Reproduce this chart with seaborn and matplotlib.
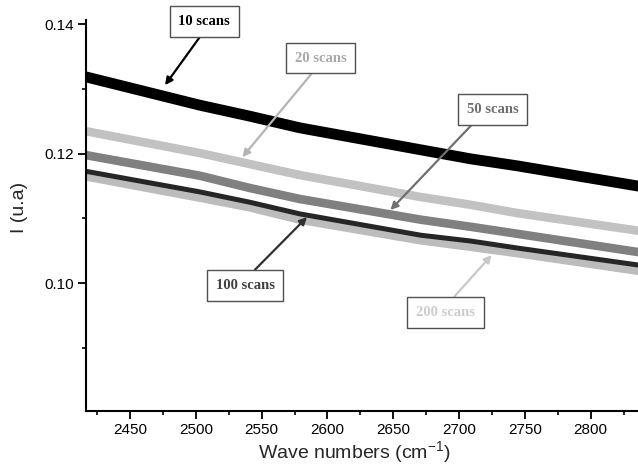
import numpy as np
import pandas as pd
import matplotlib
matplotlib.use("Agg")
import matplotlib.pyplot as plt
import seaborn as sns

# values (band centres)
wavenumber = [2416, 2503, 2541, 2579, 2671, 2709, 2745, 2836]
scans_10 = [0.1319, 0.1275, 0.1258, 0.1240, 0.1206, 0.1192, 0.1181, 0.1150]
scans_20 = [0.1235, 0.1201, 0.1184, 0.1167, 0.1133, 0.1121, 0.1108, 0.1081]
scans_50 = [0.1198, 0.1166, 0.1147, 0.1130, 0.1098, 0.1087, 0.1076, 0.1048]
scans_100 = [0.1173, 0.1141, 0.1125, 0.1107, 0.1074, 0.1065, 0.1054, 0.1028]
scans_200 = [0.1166, 0.1133, 0.1118, 0.1099, 0.1067, 0.1057, 0.1047, 0.1020]

series_names = ["10 scans", "20 scans", "50 scans", "200 scans", "100 scans"]
series_values = [scans_10, scans_20, scans_50, scans_200, scans_100]

sns.set_theme(style="ticks")
plt.rcParams["font.family"] = ["Liberation Sans", "DejaVu Sans"]
plt.rcParams["mathtext.default"] = "regular"

df = pd.concat(
    [pd.DataFrame({"wn": wavenumber, "I": v, "series": n})
     for n, v in zip(series_names, series_values)],
    ignore_index=True,
)

palette = {
    "10 scans": "#000000",
    "20 scans": "#c2c2c2",
    "50 scans": "#808080",
    "100 scans": "#262626",
    "200 scans": "#bcbcbc",
}
widths = {"10 scans": 7.8, "20 scans": 6.2, "50 scans": 6.2,
          "100 scans": 3.6, "200 scans": 7.0}

fig = plt.figure(figsize=(6.38, 4.66), dpi=100)
ax = fig.add_axes([0.1343, 0.118, 0.8657, 0.839])

for name in series_names:
    sns.lineplot(data=df[df["series"] == name], x="wn", y="I",
                 color=palette[name], linewidth=widths[name], ax=ax,
                 legend=False, zorder=2)

ax.set_xlim(2416.3, 2836)
ax.set_ylim(0.08023, 0.14066)
ax.set_xticks(np.arange(2450, 2801, 50))
ax.set_xticks(np.arange(2425, 2836, 50), minor=True)
ax.set_yticks([0.10, 0.12, 0.14])
ax.set_yticklabels(["0.10", "0.12", "0.14"])
ax.set_yticks([0.09, 0.11, 0.13], minor=True)

sns.despine(ax=ax)
for s in ["left", "bottom"]:
    ax.spines[s].set_linewidth(1.5)
    ax.spines[s].set_color("black")
ax.tick_params(which="major", direction="out", length=5.5, width=1.3,
               labelsize=11, pad=3, colors="black")
ax.tick_params(which="minor", direction="out", length=3.2, width=1.2,
               colors="black")

ax.set_xlabel("Wave numbers (cm$^{-1}$)", fontsize=14)
ax.set_ylabel("I (u.a)", fontsize=14)
ax.xaxis.set_label_coords(0.486, -0.072)
ax.yaxis.set_label_coords(-0.104, 0.52)

# labelled boxes with arrows
labels = [
    # text, text pos, arrow head, text colour, arrow colour, relpos
    ("10 scans", (2506.4, 0.14043), (2476.6, 0.1306), "#000000", "#000000", (0.54, 0.0)),
    ("20 scans", (2594.9, 0.13479), (2535.4, 0.11947), "#a8a8a8", "#b4b4b4", (0.47, 0.0)),
    ("50 scans", (2725.5, 0.12683), (2647.9, 0.11130), "#6e6e6e", "#707070", (0.26, 0.0)),
    ("100 scans", (2537.5, 0.09963), (2584.5, 0.11020), "#404040", "#303030", (0.51, 1.0)),
    ("200 scans", (2689.7, 0.09549), (2724.8, 0.10433), "#cccccc", "#c8c8c8", (0.51, 1.0)),
]
for text, xytext, xy, tcol, acol, rel in labels:
    ax.annotate(
        text, xy=xy, xytext=xytext, ha="center", va="center",
        fontsize=10.5, fontweight="bold", color=tcol,
        family=["Liberation Serif", "DejaVu Serif"],
        bbox=dict(boxstyle="square,pad=0.6", fc="white", ec="#505050", lw=1.0),
        arrowprops=dict(arrowstyle="-|>", color=acol, lw=1.6, mutation_scale=11,
                        shrinkA=0, shrinkB=0, relpos=rel),
        annotation_clip=False, zorder=5,
    )

fig.savefig("out.png", dpi=100)
